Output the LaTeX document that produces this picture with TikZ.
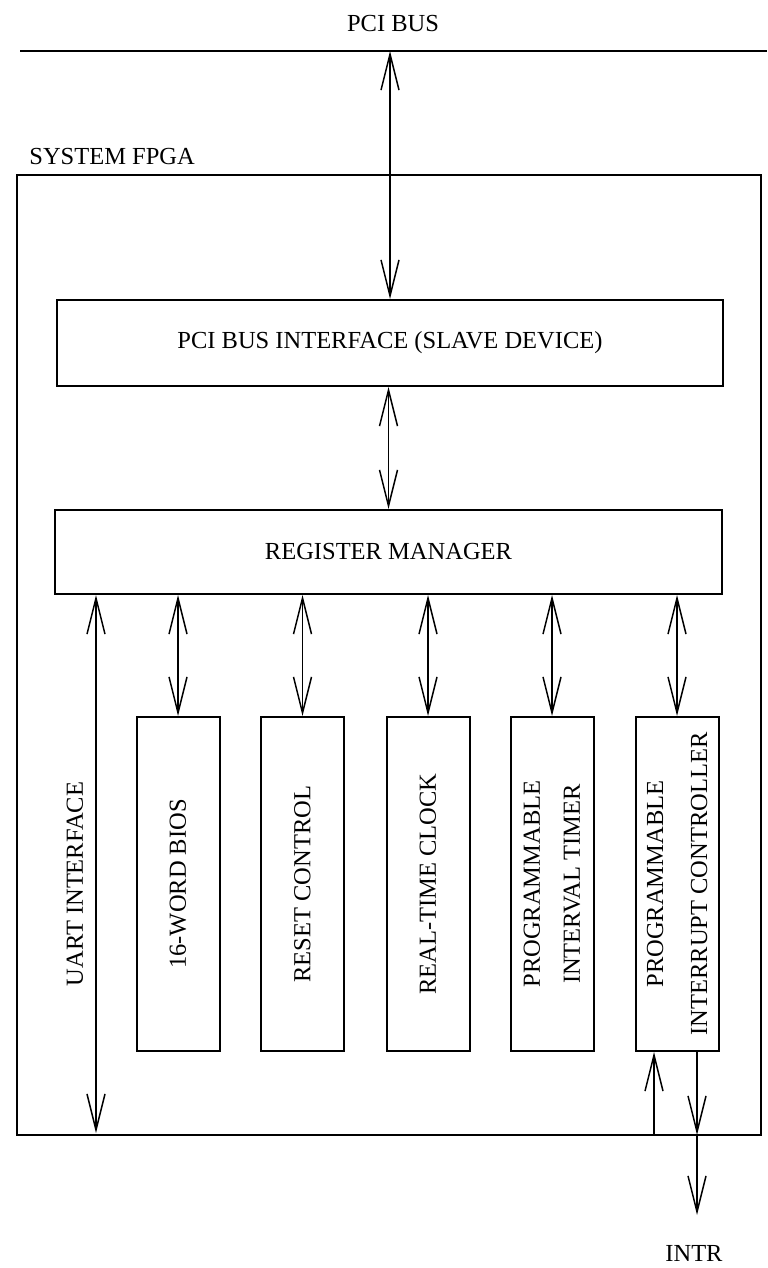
\documentclass[tikz,border=0pt]{standalone}
\usepackage{fontspec}
\setmainfont{Liberation Serif}
\usetikzlibrary{arrows.meta}
\begin{document}
\begin{tikzpicture}[x=0.5pt,y=-0.5pt,
  every node/.style={font=\fontsize{12.25}{14}\selectfont, inner sep=0pt},
  blk/.style={draw, line width=1pt, inner sep=0pt},
  vblk/.style={blk, minimum width=41.5pt, minimum height=167pt},
  vtxt/.style={rotate=90, align=center},
  conn/.style={line width=0.75pt, -{Straight Barb[length=18pt,width=9pt]}},
  biconn/.style={line width=0.75pt, {Straight Barb[length=18pt,width=9pt]}-{Straight Barb[length=18pt,width=9pt]}}]
\useasboundingbox (0,0) rectangle (767,1268);
% PCI bus
\node (buslbl) at (393,24) {PCI BUS};
\coordinate (busL) at (20,51);
\coordinate (busR) at (767,51);
\draw[line width=1pt] (busL) -- (busR);
% FPGA
\node[blk, minimum width=372pt, minimum height=480pt] (fpga) at (389,655) {};
\node[anchor=west] (fpgalbl) at (29,157) {SYSTEM FPGA};
% main blocks
\node[blk, minimum width=333pt, minimum height=43pt] (pci) at (390,343) {PCI BUS INTERFACE (SLAVE DEVICE)};
\node[blk, minimum width=333.5pt, minimum height=42pt] (rm) at (388.5,552) {REGISTER MANAGER};
% small blocks
\node[vblk] (b1) at (178,884) {};
\node[vblk] (b2) at (302.5,884) {};
\node[vblk] (b3) at (428,884) {};
\node[vblk] (b4) at (552,884) {};
\node[vblk] (b5) at (677,884) {};
\node[vtxt] (t1) at (b1) {16-WORD BIOS};
\node[vtxt] (t2) at (b2) {RESET CONTROL};
\node[vtxt] (t3) at (b3) {REAL-TIME CLOCK};
\node[vtxt, font=\fontsize{12.25}{20}\selectfont] (t4) at (b4) {PROGRAMMABLE\\INTERVAL TIMER};
\node[vtxt, font=\fontsize{12.25}{22}\selectfont] (t5) at (b5) {PROGRAMMABLE\\INTERRUPT CONTROLLER};
% UART
\coordinate (uart) at (96,1133);
\node[vtxt] (uartlbl) at (75,884) {UART INTERFACE};
% connectors
\draw[biconn] (pci.north |- busL) -- (pci.north);
\draw[biconn] (rm.north |- pci.south) -- (rm.north);
\draw[biconn] (rm.south -| uart) -- (uart);
\foreach \b in {b1,b2,b3,b4,b5}
  \draw[biconn] (rm.south -| \b.north) -- (\b.north);
% interrupt lines
\coordinate (inA) at (654,1135);
\coordinate (outA) at (697,1135);
\coordinate (intrEnd) at (697,1215);
\draw[conn] (inA) -- (inA |- b5.south);
\draw[conn] (outA |- b5.south) -- (outA);
\draw[conn] (outA) -- (intrEnd);
\node (intr) at (694,1253) {INTR};
\end{tikzpicture}
\end{document}
